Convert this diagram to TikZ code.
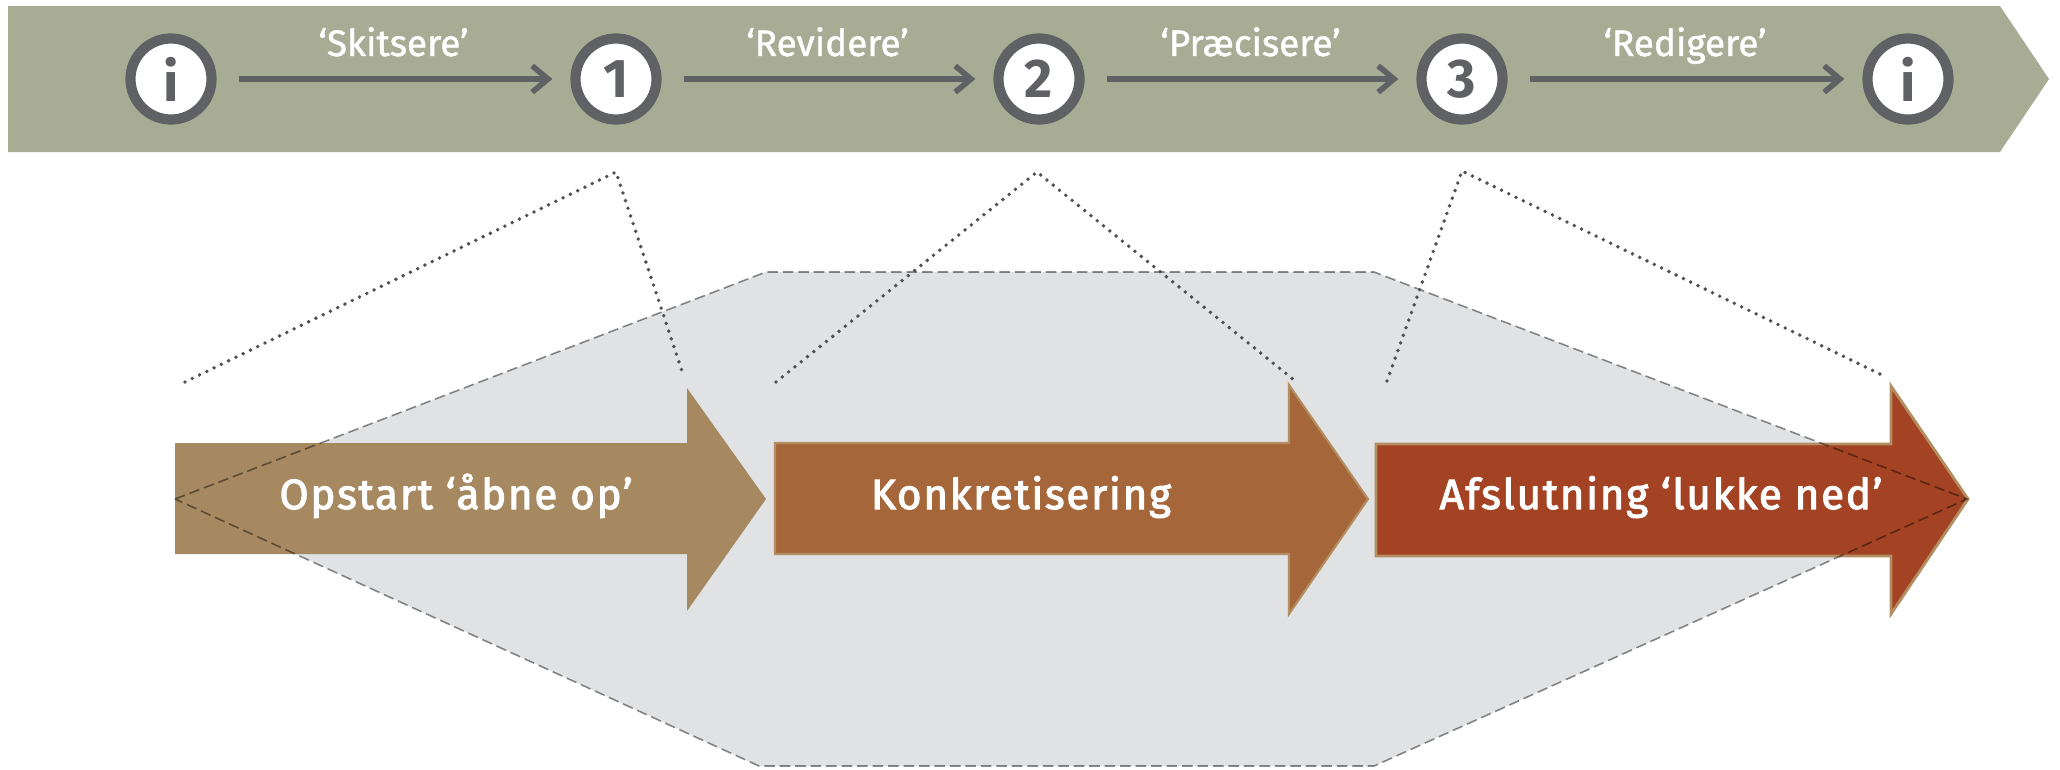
\documentclass[tikz,border=0pt]{standalone}
\usepackage{fontspec}
\setmainfont{Fira Sans}
\newfontfamily\phasefont[FakeBold=2.5, LetterSpace=4]{Fira Sans}
\newfontfamily\verbfont[FakeBold=1.2]{Fira Sans}
\usetikzlibrary{arrows.meta}

\definecolor{bandgray}{RGB}{169,172,149}
\definecolor{ringgray}{RGB}{96,97,101}
\definecolor{hexgray}{RGB}{225,226,228}
\definecolor{guidegray}{RGB}{80,80,82}
\definecolor{opstartcol}{RGB}{166,137,97}
\definecolor{konkretcol}{RGB}{165,103,58}
\definecolor{afslutcol}{RGB}{164,67,36}
\definecolor{tanedge}{RGB}{178,142,98}

\begin{document}
\begin{tikzpicture}[x=0.01cm, y=-0.01cm,
    stepnode/.style={circle, draw=ringgray, fill=white, line width=2.9pt,
                     minimum size=0.81cm, inner sep=0pt, text=ringgray,
                     font=\fontsize{15.5}{15}\selectfont\bfseries},
    flow/.style={draw=ringgray, line width=1.6pt,
                 -{Straight Barb[length=4.5pt,width=7.5pt]},
                 shorten <=0.22cm, shorten >=0.18cm},
    verb/.style={text=white, anchor=base, yshift=0.23cm,
                 font=\fontsize{10.5}{12}\verbfont},
    phase/.style={text=white, anchor=base,
                  font=\fontsize{12}{14}\phasefont},
    guide/.style={draw=guidegray, line width=1.1pt, line cap=round,
                  dash pattern=on 0pt off 2.3pt},
    ]
    \useasboundingbox (0,0) rectangle (2060,769);

    % top band
    \fill[bandgray] (8,6) -- (2000,6) -- (2049,79) -- (2000,152) -- (8,152) -- cycle;

    \node[stepnode] (s0) at (171,79) {i};
    \node[stepnode] (s1) at (616,79) {1};
    \node[stepnode] (s2) at (1039,79) {2};
    \node[stepnode] (s3) at (1462,79) {3};
    \node[stepnode] (s4) at (1908,79) {i};

    \draw[flow] (s0) -- node[verb] {‘Skitsere’} (s1);
    \draw[flow] (s1) -- node[verb] {‘Revidere’} (s2);
    \draw[flow] (s2) -- node[verb] {‘Præcisere’} (s3);
    \draw[flow] (s3) -- node[verb] {‘Redigere’} (s4);

    % hexagon behind the phases
    \fill[hexgray] (175,499) -- (766,272) -- (1374,272) -- (1967,499)
        -- (1374,766) -- (759,766) -- cycle;

    % phase arrows
    \fill[opstartcol] (175,443) -- (687,443) -- (687,388) -- (766,499)
        -- (687,611) -- (687,554) -- (175,554) -- cycle;
    \filldraw[fill=konkretcol, draw=tanedge, line width=0.6pt]
        (775,443) -- (1289,443) -- (1289,385) -- (1368,499)
        -- (1289,614) -- (1289,554) -- (775,554) -- cycle;
    \filldraw[fill=afslutcol, draw=tanedge, line width=0.8pt]
        (1376,444) -- (1891,444) -- (1891,386) -- (1968,499)
        -- (1891,614) -- (1891,556) -- (1376,556) -- cycle;

    \draw[black, draw opacity=0.45, line width=0.45pt, dash pattern=on 3pt off 1.4pt]
        (175,499) -- (766,272) -- (1374,272) -- (1967,499)
        -- (1374,766) -- (759,766) -- cycle;

    \node[phase] (opstart) at (456,509) {Opstart ‘åbne op’};
    \node[phase] (konkret) at (1021,509) {Konkretisering};
    \node[phase] (afslut) at (1661,509) {Afslutning ‘lukke ned’};

    % zoom lines from the steps
    \coordinate (p1) at (616,172);
    \coordinate (p1l) at (185,382);
    \coordinate (p1r) at (684,377);
    \coordinate (p2) at (1037,172);
    \coordinate (p2l) at (776,382);
    \coordinate (p2r) at (1294,380);
    \coordinate (p3) at (1462,171);
    \coordinate (p3l) at (1387,381);
    \coordinate (p3r) at (1884,376);

    \draw[guide] (p1l) -- (p1) -- (p1r);
    \draw[guide] (p2l) -- (p2) -- (p2r);
    \draw[guide] (p3l) -- (p3) -- (p3r);
\end{tikzpicture}
\end{document}
